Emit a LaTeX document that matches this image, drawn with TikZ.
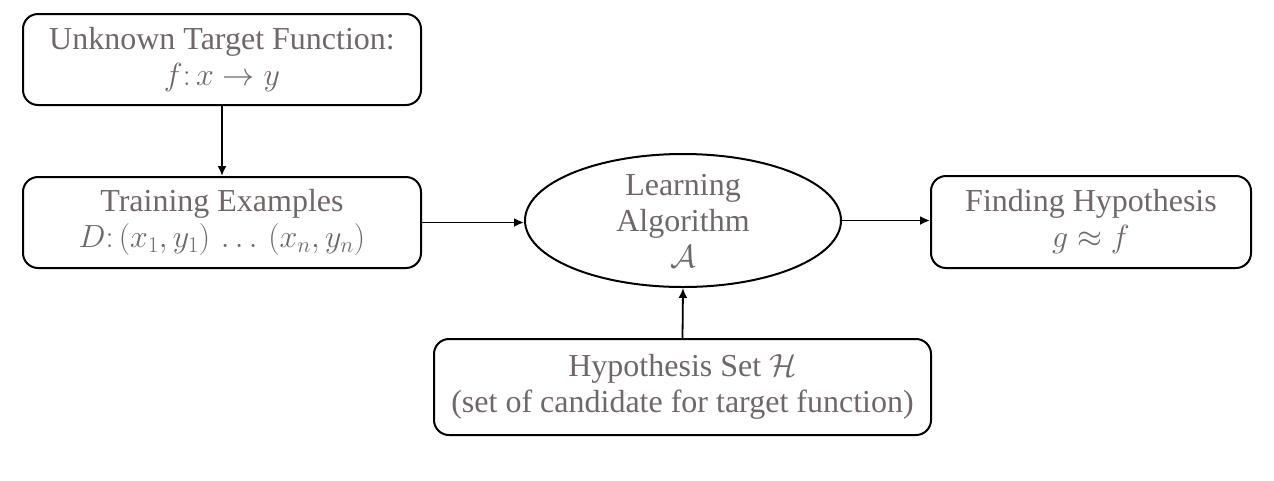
\RequirePackage{fix-cm}
\documentclass[tikz,border=0pt]{standalone}
\usepackage{fontspec}
\setmainfont{Liberation Serif}
\usetikzlibrary{shapes.geometric,arrows.meta}
\definecolor{txt}{RGB}{112,104,104}
\begin{document}
\begin{tikzpicture}[x=1pt,y=-1pt,
  base/.style={draw=black, line width=2pt, align=center, text=txt, inner sep=0pt,
    font=\fontsize{32}{36}\selectfont},
  box/.style={base, rounded corners=15pt},
  oval/.style={base, ellipse},
  conn/.style={-{Latex[length=10pt,width=9pt]}, line width=1.8pt}]
\useasboundingbox (0,0) rectangle (1274,480);
\node[box, minimum width=398pt, minimum height=91pt] (target) at (222,59.5)
  {Unknown Target Function:\\$f\colon x\rightarrow y$};
\node[box, minimum width=398pt, minimum height=91pt] (train) at (222,222.5)
  {Training Examples\\$D\colon (x_1,y_1)\,\ldots\,(x_n,y_n)$};
\node[oval, minimum width=316pt, minimum height=133pt] (alg) at (683,220.5)
  {Learning\\Algorithm\\$\mathcal{A}$};
\node[box, minimum width=320pt, minimum height=92pt] (final) at (1091,222)
  {Finding Hypothesis\\$g\approx f$};
\node[box, minimum width=497pt, minimum height=96pt] (hset) at (682.5,387)
  {Hypothesis Set $\mathcal{H}$\\(set of candidate for target function)};
\draw[conn] (target) -- (train);
\draw[conn] (train.east) -- (train.east -| alg.west);
\draw[conn] (alg.east) -- (alg.east -| final.west);
\draw[conn] (hset.north) -- (alg.south);
\end{tikzpicture}
\end{document}
